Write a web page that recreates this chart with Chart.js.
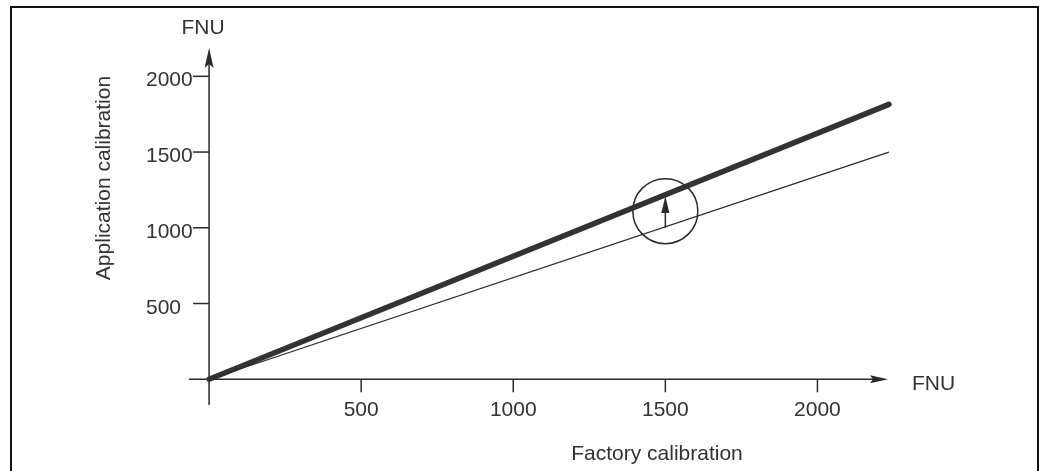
<!DOCTYPE html>
<html>
<head>
<meta charset="utf-8">
<script src="https://cdn.jsdelivr.net/npm/chart.js@4.4.1/dist/chart.umd.min.js"></script>
<style>
  html, body { margin: 0; padding: 0; background: #fff; }
  canvas { display: block; }
</style>
</head>
<body>
<canvas id="calChart" width="1044" height="471"></canvas>
<script>
// Values (FNU)
const lineX = [0, 2235];
const factoryLine = [0, 1500];      // thin line
const applicationLine = [0, 1815];  // thick line
const xTicks = [500, 1000, 1500, 2000];
const yTicks = [500, 1000, 1500, 2000];
const markX = [1500];
const markFrom = [1000];
const markTo = [1210];
const markCircleY = [1110];

const INK = '#2a2a2a';
const TEXT = '#333';
const FONT = '21px "Liberation Sans", Arial, sans-serif';

function toPoints(xs, ys) {
    return xs.map((x, i) => ({ x: x, y: ys[i] }));
}

// Axes, ticks, labels, arrows and the frame
const drawing = {
    id: 'drawing',
    beforeDraw(chart) {
        const ctx = chart.ctx;
        ctx.save();
        ctx.fillStyle = '#fff';
        ctx.fillRect(0, 0, chart.width, chart.height);
        // frame (no bottom edge visible)
        ctx.strokeStyle = '#111';
        ctx.lineWidth = 2;
        ctx.beginPath();
        ctx.moveTo(11, chart.height);
        ctx.lineTo(11, 7);
        ctx.lineTo(1038, 7);
        ctx.lineTo(1038, chart.height);
        ctx.stroke();
        ctx.restore();
    },
    beforeDatasetsDraw(chart) {
        const ctx = chart.ctx;
        const xs = chart.scales.x, ys = chart.scales.y;
        const area = chart.chartArea;
        const x0 = xs.getPixelForValue(0);
        const y0 = ys.getPixelForValue(0);

        ctx.save();
        ctx.strokeStyle = INK;
        ctx.fillStyle = INK;
        ctx.lineWidth = 1.5;

        // x axis
        ctx.beginPath();
        ctx.moveTo(area.left, y0);
        ctx.lineTo(area.right - 10, y0);
        ctx.stroke();
        ctx.beginPath();
        ctx.moveTo(area.right, y0);
        ctx.lineTo(area.right - 18, y0 - 4);
        ctx.lineTo(area.right - 15, y0);
        ctx.lineTo(area.right - 18, y0 + 4);
        ctx.closePath();
        ctx.fill();

        // y axis
        ctx.beginPath();
        ctx.moveTo(x0, area.bottom);
        ctx.lineTo(x0, area.top + 10);
        ctx.stroke();
        ctx.beginPath();
        ctx.moveTo(x0, area.top);
        ctx.lineTo(x0 - 4.5, area.top + 20);
        ctx.lineTo(x0, area.top + 16);
        ctx.lineTo(x0 + 4.5, area.top + 20);
        ctx.closePath();
        ctx.fill();

        // tick marks
        xTicks.forEach(v => {
            const px = xs.getPixelForValue(v);
            ctx.beginPath();
            ctx.moveTo(px, y0);
            ctx.lineTo(px, y0 + 13);
            ctx.stroke();
        });
        yTicks.forEach(v => {
            const py = ys.getPixelForValue(v);
            ctx.beginPath();
            ctx.moveTo(x0 - 16, py);
            ctx.lineTo(x0, py);
            ctx.stroke();
        });

        // tick labels
        ctx.fillStyle = TEXT;
        ctx.font = FONT;
        ctx.textBaseline = 'alphabetic';
        ctx.textAlign = 'center';
        xTicks.forEach(v => {
            ctx.fillText(String(v), xs.getPixelForValue(v), y0 + 37);
        });
        ctx.textAlign = 'left';
        yTicks.forEach(v => {
            ctx.fillText(String(v), 146, ys.getPixelForValue(v) + 10);
        });

        // axis titles
        ctx.textAlign = 'center';
        ctx.fillText('FNU', x0 - 6, 34);
        ctx.textAlign = 'left';
        ctx.fillText('FNU', 912, y0 + 11);
        ctx.textAlign = 'center';
        ctx.fillText('Factory calibration', 657, 460);
        ctx.save();
        ctx.translate(110, 178);
        ctx.rotate(-Math.PI / 2);
        ctx.fillText('Application calibration', 0, 0);
        ctx.restore();

        ctx.restore();
    },
    afterDatasetsDraw(chart) {
        const ctx = chart.ctx;
        const xs = chart.scales.x, ys = chart.scales.y;
        ctx.save();
        ctx.strokeStyle = INK;
        ctx.fillStyle = INK;
        ctx.lineWidth = 1.5;
        markX.forEach((v, i) => {
            const px = xs.getPixelForValue(v);
            const pFrom = ys.getPixelForValue(markFrom[i]);
            const pTo = ys.getPixelForValue(markTo[i]);
            ctx.beginPath();
            ctx.moveTo(px, pFrom);
            ctx.lineTo(px, pTo + 12);
            ctx.stroke();
            ctx.beginPath();
            ctx.moveTo(px, pTo);
            ctx.lineTo(px - 4, pTo + 17);
            ctx.lineTo(px + 4, pTo + 17);
            ctx.closePath();
            ctx.fill();
        });
        ctx.restore();
    }
};

new Chart(document.getElementById('calChart'), {
    type: 'scatter',
    data: {
        datasets: [
            {
                label: 'Factory calibration',
                data: toPoints(lineX, factoryLine),
                showLine: true,
                borderColor: INK,
                borderWidth: 1.3,
                pointRadius: 0,
                clip: false
            },
            {
                label: 'Application calibration',
                data: toPoints(lineX, applicationLine),
                showLine: true,
                borderColor: '#333',
                borderWidth: 5.5,
                borderCapStyle: 'round',
                pointRadius: 0,
                clip: false
            },
            {
                label: 'Marker',
                data: toPoints(markX, markCircleY),
                pointRadius: 32.5,
                pointBorderWidth: 1.5,
                pointBorderColor: INK,
                pointBackgroundColor: 'rgba(0,0,0,0)',
                pointHoverRadius: 32.5,
                clip: false
            }
        ]
    },
    options: {
        responsive: false,
        animation: false,
        events: [],
        layout: { padding: { left: 189, right: 156, top: 48, bottom: 66 } },
        plugins: { legend: { display: false }, tooltip: { enabled: false } },
        scales: {
            x: { type: 'linear', min: -66, max: 2232, display: false },
            y: { type: 'linear', min: -170, max: 2187, display: false }
        }
    },
    plugins: [drawing]
});
</script>
</body>
</html>
